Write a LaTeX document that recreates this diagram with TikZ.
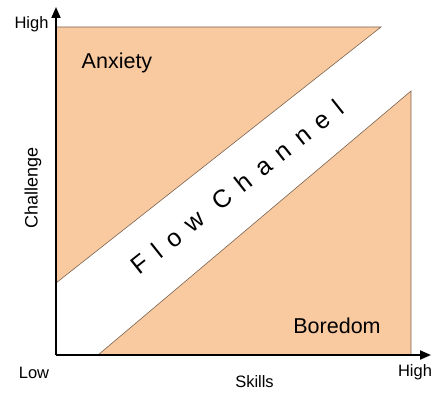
\documentclass[tikz,border=0pt]{standalone}
\usepackage{fontspec}
\setmainfont{Liberation Sans}
\usetikzlibrary{arrows.meta}
\begin{document}
\begin{tikzpicture}[x=1pt,y=-1pt,
  zone/.style={fill=zonefill,draw=zoneline,line width=0.6pt,line join=miter},
  axis/.style={line width=2pt,-{Triangle[length=11pt,width=9pt]}},
  ticklabel/.style={font=\fontsize{16.5}{19}\selectfont,inner sep=0pt},
  zonelabel/.style={font=\fontsize{21.5}{25}\selectfont,inner sep=0pt}]
\definecolor{zonefill}{HTML}{F9C9A0}
\definecolor{zoneline}{HTML}{7A6552}
\useasboundingbox (0,0) rectangle (435,393);
% corners of the chart
\coordinate (origin) at (56,355);
\coordinate (ytop) at (56,7);
\coordinate (xend) at (431,355);
% anxiety region (upper-left triangle)
\coordinate (a1) at (56,27);
\coordinate (a2) at (381,27);
\coordinate (a3) at (56,283);
% boredom region (lower-right triangle)
\coordinate (b1) at (98,355);
\coordinate (b2) at (411,91);
\coordinate (b3) at (411,355);
\draw[zone] (a1) -- (a2) -- (a3) -- cycle;
\draw[zone] (b1) -- (b2) -- (b3) -- cycle;
% axes
\draw[axis] (origin) -- (ytop);
\draw[axis] (origin) -- (xend);
% labels
\node[ticklabel] (yhigh) at (31.5,24) {High};
\node[ticklabel] (ylow) at (34,373) {Low};
\node[ticklabel] (xhigh) at (415,372) {High};
\node[ticklabel] (skills) at (254.5,382) {Skills};
\node[ticklabel,font=\fontsize{18}{20}\selectfont,rotate=90] (challenge) at (33,187.5) {Challenge};
\node[zonelabel] (anxiety) at (117,63) {Anxiety};
\node[zonelabel] (boredom) at (337,326) {Boredom};
\node[inner sep=0pt,rotate=38.5,font=\fontsize{25}{28}\selectfont\addfontfeature{LetterSpace=44}] (flow) at (237,187) {Flow Channel};
\end{tikzpicture}
\end{document}
